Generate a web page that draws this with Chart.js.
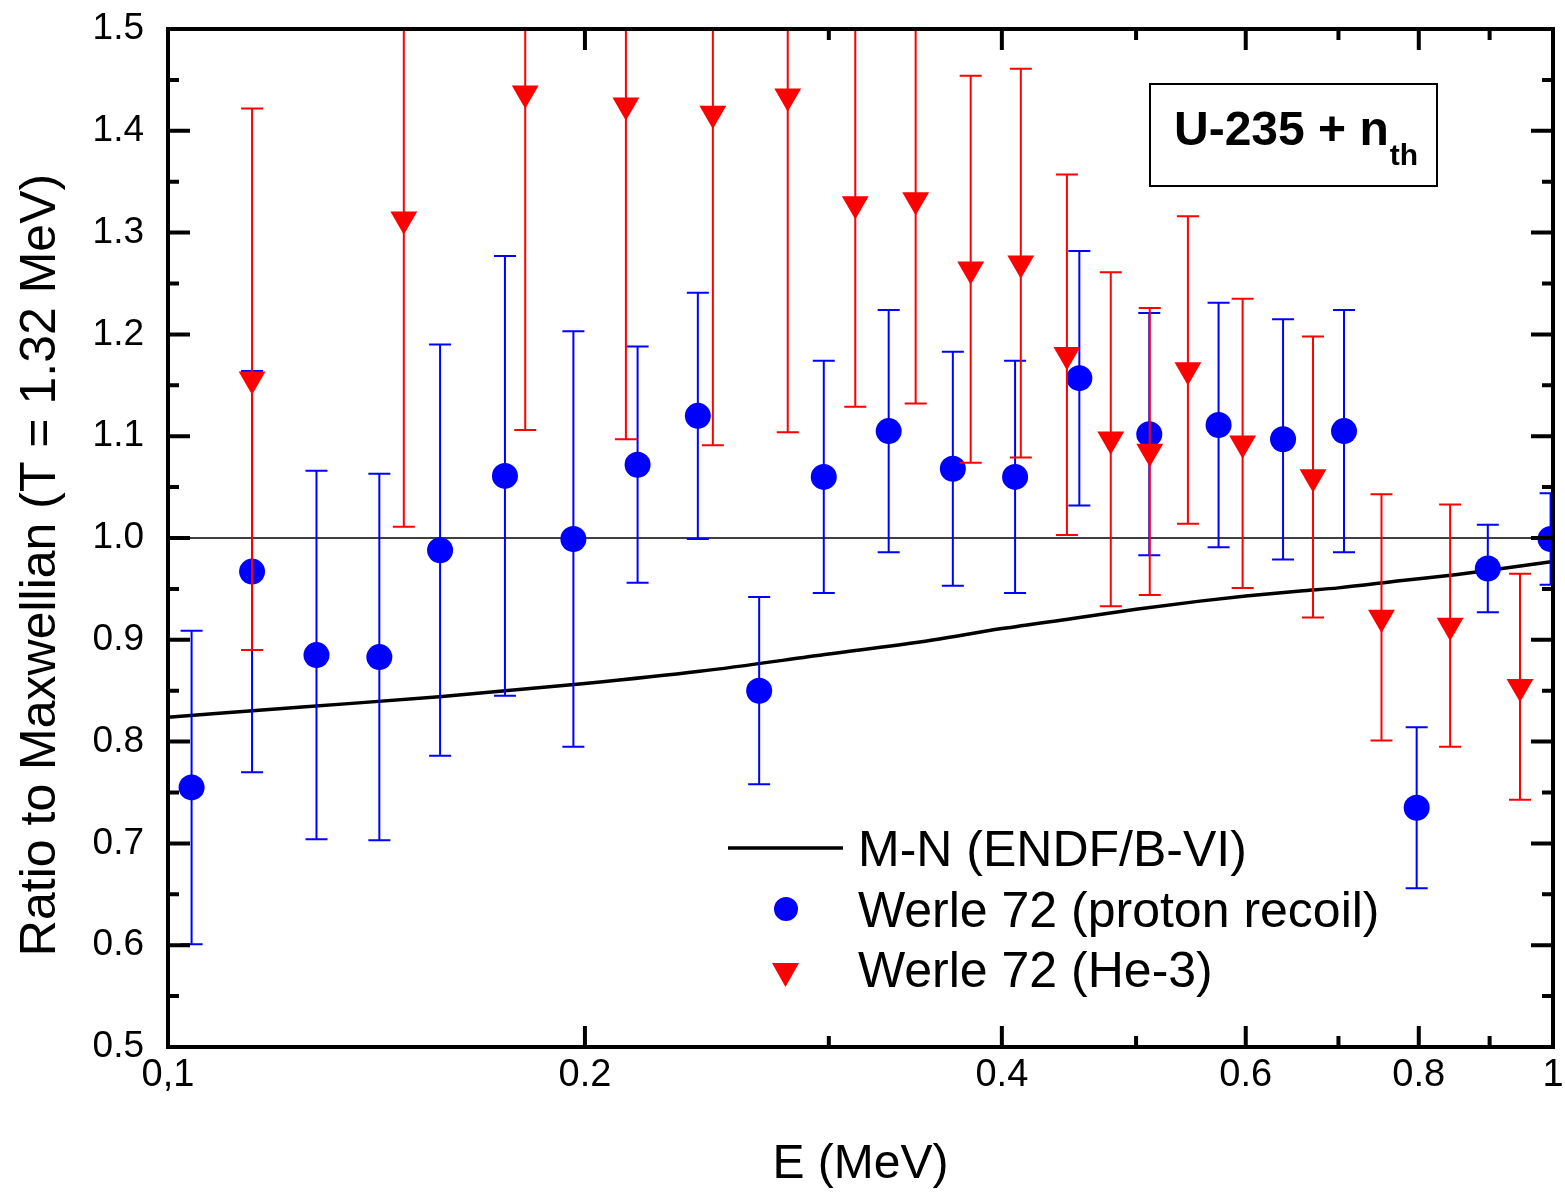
<!DOCTYPE html>
<html>
<head>
<meta charset="utf-8">
<title>U-235 + nth ratio to Maxwellian</title>
<script src="https://cdn.jsdelivr.net/npm/chart.js@4.4.0/dist/chart.umd.min.js"></script>
<style>
    html, body { margin: 0; padding: 0; background: #fff; }
    #wrap { width: 1565px; height: 1194px; }
</style>
</head>
<body>
<div id="wrap"><canvas id="ratioChart" width="1565" height="1194"></canvas></div>
<script>
// Werle 72, proton recoil
const blueEnergy = [0.1040, 0.1150, 0.1280, 0.1421, 0.1572, 0.1751, 0.1962, 0.2183, 0.2413, 0.2672, 0.2975,
                    0.3314, 0.3687, 0.4089, 0.4550, 0.5111, 0.5735, 0.6384, 0.7065, 0.7972, 0.8973, 0.9960];
const blueRatio = [0.755, 0.967, 0.885, 0.883, 0.988, 1.061, 0.999, 1.072, 1.120, 0.850, 1.060,
                   1.105, 1.068, 1.060, 1.157, 1.102, 1.111, 1.097, 1.105, 0.735, 0.970, 0.999];
const blueError = [0.154, 0.197, 0.181, 0.180, 0.202, 0.216, 0.204, 0.116, 0.121, 0.092, 0.114,
                   0.119, 0.115, 0.114, 0.125, 0.119, 0.120, 0.118, 0.119, 0.079, 0.043, 0.045];

// Werle 72, He-3
const redEnergy = [0.1150, 0.1480, 0.1811, 0.2141, 0.2474, 0.2802, 0.3135, 0.3466, 0.3798, 0.4128,
                   0.4457, 0.4794, 0.5115, 0.5450, 0.5969, 0.6710, 0.7519, 0.8428, 0.9466];
const redRatio = [1.156, 1.313, 1.437, 1.425, 1.417, 1.434, 1.328, 1.332, 1.264, 1.270,
                  1.180, 1.097, 1.085, 1.165, 1.093, 1.060, 0.922, 0.914, 0.854];
const redError = [0.266, 0.302, 0.331, 0.328, 0.326, 0.330, 0.199, 0.200, 0.190, 0.191,
                  0.177, 0.164, 0.141, 0.151, 0.142, 0.138, 0.121, 0.119, 0.111];

// M-N (ENDF/B-VI) curve
const mnEnergy = [0.100, 0.125, 0.157, 0.200, 0.242, 0.300, 0.350, 0.400, 0.450, 0.500, 0.556,
                  0.600, 0.657, 0.700, 0.775, 0.850, 0.897, 1.000];
const mnRatio = [0.824, 0.834, 0.844, 0.857, 0.869, 0.886, 0.898, 0.911, 0.921, 0.930, 0.938,
                 0.943, 0.948, 0.951, 0.958, 0.964, 0.968, 0.977];

// reference level
const refEnergy = [0.1, 1];
const refRatio = [1, 1];

// axes
const xTickValues = [0.1, 0.2, 0.3, 0.4, 0.5, 0.6, 0.7, 0.8, 0.9, 1];
const xTickLabels = ['0,1', '0.2', '', '0.4', '', '0.6', '', '0.8', '', '1'];
const yTickLabels = ['0.5', '0.6', '0.7', '0.8', '0.9', '1.0', '1.1', '1.2', '1.3', '1.4', '1.5'];

const FONT = "'Liberation Sans', Arial, Helvetica, sans-serif";

function toPoints(xs, ys) {
    return xs.map((x, i) => ({ x: x, y: ys[i] }));
}

// Vertical error bars with caps, drawn just before their dataset
const errorBars = {
    id: 'errorBars',
    beforeDatasetDraw(chart, args) {
        const ds = chart.data.datasets[args.index];
        if (!ds.errors) return;
        const { ctx, chartArea: a, scales: { x, y } } = chart;
        ctx.save();
        ctx.beginPath();
        ctx.rect(a.left, a.top, a.right - a.left, a.bottom - a.top);
        ctx.clip();
        ctx.strokeStyle = ds.backgroundColor;
        ctx.lineWidth = 2;
        ds.data.forEach((p, i) => {
            const px = x.getPixelForValue(p.x);
            const top = y.getPixelForValue(p.y + ds.errors[i]);
            const bot = y.getPixelForValue(p.y - ds.errors[i]);
            ctx.beginPath();
            ctx.moveTo(px, top);
            ctx.lineTo(px, bot);
            ctx.moveTo(px - 11, top);
            ctx.lineTo(px + 11, top);
            ctx.moveTo(px - 11, bot);
            ctx.lineTo(px + 11, bot);
            ctx.stroke();
        });
        ctx.restore();
    }
};

// Frame, inward ticks on all four sides, rotated y title
const frameAndTicks = {
    id: 'frameAndTicks',
    afterDraw(chart) {
        const { ctx, chartArea: a, scales: { x, y } } = chart;
        ctx.save();
        ctx.strokeStyle = '#000';
        ctx.lineWidth = 4;
        ctx.beginPath();
        for (let i = 1; i < 20; i++) {
            const py = y.getPixelForValue(0.5 + i * 0.05);
            const len = i % 2 ? 11 : 22;
            ctx.moveTo(a.left, py);
            ctx.lineTo(a.left + len, py);
            ctx.moveTo(a.right, py);
            ctx.lineTo(a.right - len, py);
        }
        xTickValues.forEach((v, i) => {
            if (i === 0 || i === xTickValues.length - 1) return;
            const px = x.getPixelForValue(v);
            const len = xTickLabels[i] ? 21 : 11;
            ctx.moveTo(px, a.bottom);
            ctx.lineTo(px, a.bottom - len);
            ctx.moveTo(px, a.top);
            ctx.lineTo(px, a.top + len);
        });
        ctx.stroke();
        ctx.strokeRect(a.left, a.top, a.right - a.left, a.bottom - a.top);

        ctx.fillStyle = '#000';
        ctx.font = '50px ' + FONT;
        ctx.textAlign = 'center';
        ctx.textBaseline = 'alphabetic';
        ctx.translate(55, 565);
        ctx.rotate(-Math.PI / 2);
        ctx.fillText('Ratio to Maxwellian (T = 1.32 MeV)', 0, 0);
        ctx.restore();
    }
};

// Legend and the U-235 label box
const legendBox = {
    id: 'legendBox',
    afterDraw(chart) {
        const { ctx } = chart;
        const ds = chart.data.datasets;
        ctx.save();
        ctx.fillStyle = '#000';
        ctx.font = '50px ' + FONT;
        ctx.textAlign = 'left';
        ctx.textBaseline = 'alphabetic';

        // M-N line
        ctx.strokeStyle = '#000';
        ctx.lineWidth = 3.5;
        ctx.beginPath();
        ctx.moveTo(728, 848);
        ctx.lineTo(843, 848);
        ctx.stroke();
        ctx.fillText(ds[1].label, 858, 866);

        // circle
        ctx.fillStyle = ds[2].backgroundColor;
        ctx.beginPath();
        ctx.arc(786, 909, 12, 0, Math.PI * 2);
        ctx.fill();
        ctx.fillStyle = '#000';
        ctx.fillText(ds[2].label, 858, 927);

        // down triangle
        ctx.fillStyle = ds[3].backgroundColor;
        ctx.beginPath();
        ctx.moveTo(772, 963);
        ctx.lineTo(799, 963);
        ctx.lineTo(785.5, 987);
        ctx.closePath();
        ctx.fill();
        ctx.fillStyle = '#000';
        ctx.fillText(ds[3].label, 858, 987);

        // annotation box
        ctx.lineWidth = 2;
        ctx.strokeRect(1150, 84, 287, 102);
        ctx.font = 'bold 48px ' + FONT;
        const main = 'U-235 + n';
        ctx.fillText(main, 1174, 145);
        const w = ctx.measureText(main).width;
        ctx.font = 'bold 30px ' + FONT;
        ctx.fillText('th', 1174 + w + 1, 165);
        ctx.restore();
    }
};

const ctx = document.getElementById('ratioChart').getContext('2d');
const ratioChart = new Chart(ctx, {
    type: 'scatter',
    data: {
        datasets: [{
            label: 'reference',
            data: toPoints(refEnergy, refRatio),
            showLine: true,
            borderColor: '#000',
            borderWidth: 1.5,
            pointRadius: 0,
            order: 4
        }, {
            label: 'M-N (ENDF/B-VI)',
            data: toPoints(mnEnergy, mnRatio),
            showLine: true,
            borderColor: '#000',
            borderWidth: 3.5,
            cubicInterpolationMode: 'monotone',
            pointRadius: 0,
            order: 3
        }, {
            label: 'Werle 72 (proton recoil)',
            data: toPoints(blueEnergy, blueRatio),
            errors: blueError,
            backgroundColor: '#0000ff',
            borderWidth: 0,
            pointStyle: 'circle',
            pointRadius: 13,
            clip: 0,
            order: 2
        }, {
            label: 'Werle 72 (He-3)',
            data: toPoints(redEnergy, redRatio),
            errors: redError,
            backgroundColor: '#ff0000',
            borderWidth: 0,
            pointStyle: 'triangle',
            rotation: 180,
            pointRadius: 15.5,
            clip: 0,
            order: 1
        }]
    },
    options: {
        responsive: false,
        animation: false,
        events: [],
        layout: { autoPadding: false, padding: { top: 29, right: 12, left: 0, bottom: 0 } },
        scales: {
            x: {
                type: 'logarithmic',
                min: 0.1,
                max: 1,
                afterBuildTicks: scale => {
                    scale.ticks = xTickValues.map(v => ({ value: v }));
                },
                afterFit: scale => {
                    scale.height = 147;
                    scale.paddingLeft = 0;
                    scale.paddingRight = 0;
                },
                grid: { display: false, drawTicks: false },
                border: { display: false },
                ticks: {
                    autoSkip: false,
                    maxRotation: 0,
                    padding: 6,
                    color: '#000',
                    font: { family: FONT, size: 38 },
                    callback: (value, index) => xTickLabels[index]
                },
                title: {
                    display: true,
                    text: 'E (MeV)',
                    color: '#000',
                    font: { family: FONT, size: 48 },
                    padding: { top: 0, bottom: 0 }
                }
            },
            y: {
                min: 0.5,
                max: 1.5,
                afterFit: scale => {
                    scale.width = 168;
                    scale.paddingTop = 0;
                    scale.paddingBottom = 0;
                },
                grid: { display: false, drawTicks: false },
                border: { display: false },
                ticks: {
                    stepSize: 0.1,
                    padding: 24,
                    color: '#000',
                    font: { family: FONT, size: 37 },
                    callback: (value, index) => yTickLabels[index]
                }
            }
        },
        plugins: {
            legend: { display: false },
            tooltip: { enabled: false }
        }
    },
    plugins: [errorBars, frameAndTicks, legendBox]
});
</script>
</body>
</html>
